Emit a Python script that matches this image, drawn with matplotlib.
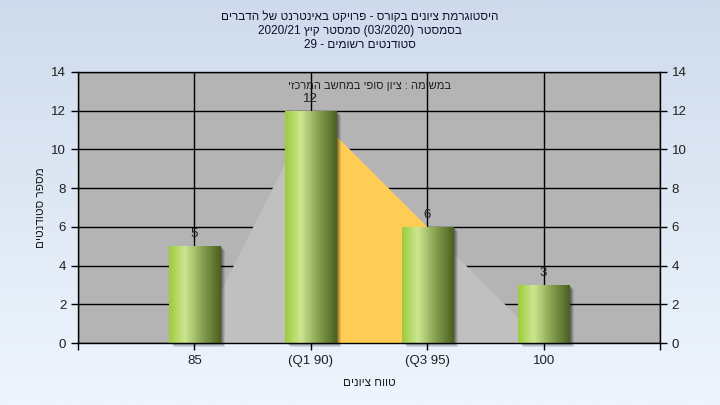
import re

import matplotlib
matplotlib.use("Agg")
import matplotlib.pyplot as plt
import numpy as np
from matplotlib.colors import LinearSegmentedColormap
from matplotlib.patches import Rectangle
import matplotlib.transforms as mtransforms

plt.rcParams["font.family"] = ["Liberation Sans", "DejaVu Sans"]

# ---------------------------------------------------------------------------
# Data
# ---------------------------------------------------------------------------
categories = ["85", "(Q1 90)", "(Q3 95)", "100"]
counts = [5, 12, 6, 3]
area_values = [0, 12, 6, 0]          # background polygon behind the bars
quartile_span = (1, 2)               # index range filled in yellow (Q1..Q3)

title_lines = [
    "היסטוגרמת ציונים בקורס - פרויקט באינטרנט של הדברים",
    "בסמסטר (03/2020) סמסטר קיץ 2020/21",
    "סטודנטים רשומים - 29",
]
inner_text = "במשימה : ציון סופי במחשב המרכזי"
x_label = "טווח ציונים"
y_label = "מספר סטודנטים"


def rtl(s: str) -> str:
    """Very small logical->visual conversion for Hebrew lines."""
    out = s[::-1]
    out = out.translate(str.maketrans("()", ")("))
    return re.sub(r"[0-9A-Za-z/.]+", lambda m: m.group(0)[::-1], out)


fig = plt.figure(figsize=(7.2, 4.05), dpi=100)

# figure background gradient
bg = fig.add_axes([0, 0, 1, 1], zorder=-10)
grad = np.linspace(0, 1, 256).reshape(-1, 1)
bg_cmap = LinearSegmentedColormap.from_list("bg", ["#cfdbec", "#eef5fd"])
bg.imshow(grad, aspect="auto", cmap=bg_cmap, extent=[0, 1, 0, 1])
bg.set_axis_off()

ax = fig.add_axes([78 / 720, 1 - 343 / 405, 582 / 720, 271 / 405])
ax.set_facecolor("#b4b4b4")

x = np.arange(1, len(categories) + 1)

# background area (grey) with the quartile part in yellow
ax.fill_between(x, area_values, color="#c0c0c0", lw=0, zorder=1)
i0, i1 = quartile_span
ax.fill_between(x[i0:i1 + 1], area_values[i0:i1 + 1], color="#ffcc55", lw=0, zorder=1.1)

# bars with gradient + soft shadow
bar_w = 0.44
bar_cmap = LinearSegmentedColormap.from_list(
    "bar", [(0, "#9ccc3c"), (0.3, "#cde690"), (0.65, "#86a050"), (1, "#4a6020")]
)
hgrad = np.linspace(0, 1, 128).reshape(1, -1)
for k, (xi, v) in enumerate(zip(x, counts)):
    for j, a in enumerate([0.10, 0.12, 0.15, 0.2]):
        off = mtransforms.offset_copy(ax.transData, fig=fig, x=5 - j, y=-(4 - j), units="dots")
        ax.add_patch(Rectangle((xi - bar_w / 2, 0), bar_w, v, facecolor="black",
                               alpha=a, lw=0, transform=off, zorder=1.5, clip_on=False))
    rect = Rectangle((xi - bar_w / 2, 0), bar_w, v, facecolor="none", lw=0, zorder=2)
    ax.add_patch(rect)
    im = ax.imshow(hgrad, aspect="auto", cmap=bar_cmap,
                   extent=[xi - bar_w / 2, xi + bar_w / 2, 0, v], zorder=2)
    im.set_clip_path(rect)
    ax.text(xi, v + 0.3, str(v), ha="center", va="bottom", fontsize=9.5,
            color="#202020", zorder=4)

ax.set_xlim(0, 5)
ax.set_ylim(0, 14)
ax.set_yticks(range(0, 15, 2))
ax.set_xticks(range(0, 6))
ax.set_xticklabels([""] + categories + [""])
ax.set_axisbelow(True)
ax.grid(color="black", lw=1)
ax.tick_params(axis="both", colors="black", labelcolor="#202020", labelsize=9.5,
               length=5, width=1, direction="out")
ax.tick_params(axis="y", right=True, labelright=True)
for sp in ax.spines.values():
    sp.set_color("black")
    sp.set_linewidth(1)
    sp.set_zorder(5)

ax.text(0.5, 0.948, rtl(inner_text), transform=ax.transAxes, ha="center",
        va="center", fontsize=8, color="#202020", zorder=4)

ax.set_xlabel(rtl(x_label), fontsize=8.5, color="#202020", labelpad=7)
ax.set_ylabel(rtl(y_label), fontsize=8.5, color="#202020", labelpad=3)

for i, line in enumerate(title_lines):
    fig.text(0.5, 1 - (17 + 14 * i) / 405, rtl(line), ha="center", va="center",
             fontsize=8.5, color="#101030")

fig.savefig("out.png", dpi=100)
